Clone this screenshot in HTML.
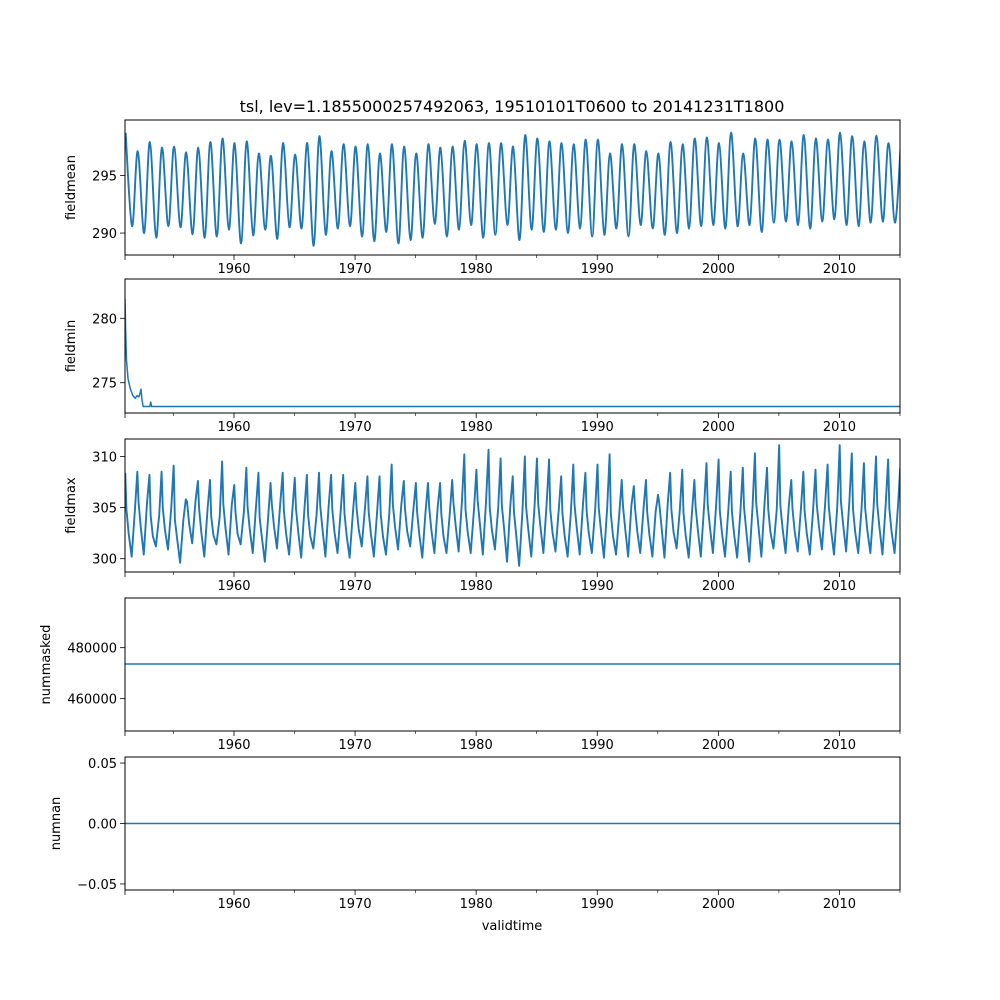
<!DOCTYPE html>
<html><head><meta charset="utf-8"><style>
html,body{margin:0;padding:0;background:#fff;}
svg{display:block;font-family:"DejaVu Sans","Liberation Sans",sans-serif;}
</style></head><body>
<svg id="fig" width="1000" height="1000" viewBox="0 0 1000 1000"></svg>
<script>
const startYear = 1951;
const years = Array.from({length: 64}, (_, i) => 1951 + i);
const majorTicks = [1960, 1970, 1980, 1990, 2000, 2010];
const minorTicks = [1955, 1965, 1975, 1985, 1995, 2005, 2015];

const meanPeaks = [298.7,297.1,297.9,297.4,297.5,297.0,297.4,297.9,298.2,297.8,297.95,296.9,296.7,297.8,296.8,297.8,298.4,297.1,297.7,297.5,297.7,296.9,297.7,297.5,296.9,297.7,297.4,297.5,298.0,297.7,297.8,
297.8,297.5,298.5,298.2,297.95,297.8,297.7,298.1,298.1,296.9,297.7,297.7,297.1,296.9,297.9,297.7,298.2,298.3,297.8,298.7,296.9,298.2,298.1,298.1,297.95,298.5,298.2,298.1,298.7,298.4,297.95,298.45,297.8,297.5];
const meanTroughs = [290.6,290.0,289.6,290.6,290.5,289.9,289.6,289.7,290.3,289.1,289.8,290.3,289.5,290.5,290.4,288.9,289.85,290.4,290.6,289.7,289.3,290.1,289.1,289.4,289.6,290.8,289.7,290.3,290.7,289.6,289.85,
290.7,289.4,290.3,290.1,290.3,290.0,290.4,289.7,289.85,290.4,289.7,290.7,290.4,289.85,290.0,290.4,290.6,290.7,290.4,290.6,290.7,290.1,290.9,291.0,290.7,290.4,291.0,291.2,290.7,290.6,290.9,291.0,290.9];

const minTimes = [1951.0,1951.05,1951.12,1951.25,1951.45,1951.65,1951.85,1952.0,1952.15,1952.25,1952.32,1952.4,1952.5,1952.9,1953.05,1953.12,1953.2,1953.3,2015.0];
const minValues = [281.5,279.2,276.8,275.3,274.5,274.0,273.8,274.0,273.9,274.2,274.5,273.7,273.15,273.15,273.15,273.5,273.15,273.15,273.15];

const maxPeaks = [308.4,308.5,308.2,308.5,309.1,305.8,307.6,307.7,309.5,307.2,308.9,308.4,307.4,308.4,307.9,308.2,308.4,308.2,308.2,307.4,308.05,308.05,309.2,307.6,307.4,307.4,307.4,307.7,310.2,308.7,310.65,
309.8,308.05,310.0,309.8,309.7,308.05,309.2,308.4,309.2,310.2,307.7,307.1,307.7,306.25,308.4,308.7,307.7,309.35,309.7,308.5,308.9,310.3,308.9,311.1,307.7,308.5,308.7,309.2,311.1,310.3,309.35,310.0,309.7,308.9];
const maxShoulders = [302.5,303.1,302.2,302.8,302.0,303.4,302.6,302.3,303.0,302.4,302.9,302.1,303.2,302.5,302.7,302.2,303.0,302.6,302.3,302.9,302.5,302.2,303.1,302.7,302.4,302.8,302.2,303.3,302.6,303.5,302.8,
303.0,302.4,302.9,303.2,302.6,302.3,303.1,302.5,302.8,302.2,303.0,302.7,302.4,303.2,302.6,302.3,302.9,303.1,302.5,302.4,302.8,303.3,302.6,303.0,302.7,302.5,303.2,302.9,303.4,302.6,302.8,303.1,302.7];
const maxRises = [304.8,305.5,304.2,305.0,303.8,305.6,304.9,304.1,305.3,304.6,305.1,304.0,305.4,304.7,304.9,304.3,305.2,304.8,304.5,305.0,304.6,304.3,305.3,304.9,304.6,305.0,304.4,305.5,304.8,305.7,305.0,
305.2,304.6,305.1,305.4,304.8,304.5,305.3,304.7,305.0,304.4,305.2,304.9,304.6,305.4,304.8,304.5,305.1,305.3,304.7,304.6,305.0,305.5,304.8,305.2,304.9,304.7,305.4,305.1,305.6,304.8,305.0,305.3,304.9];
const maxTroughs = [300.2,300.4,301.2,300.9,299.6,301.5,300.2,301.4,300.4,301.4,300.55,299.7,301.0,300.4,300.1,301.0,300.2,300.55,300.1,301.2,300.2,300.4,300.9,301.2,300.1,300.55,300.55,300.7,300.55,300.4,300.9,
299.7,299.3,300.2,300.55,300.7,300.2,300.4,300.55,300.1,300.4,300.2,300.55,300.2,300.1,301.0,300.1,300.2,300.55,300.2,300.1,299.7,300.2,301.0,300.55,300.7,300.4,300.9,300.4,300.7,300.55,300.55,300.4,300.55];

const maskedValue = 473600;
const nanValue = 0.0;

const ticks1 = [290, 295], ticks2 = [275, 280], ticks3 = [300, 305, 310], ticks4 = [460000, 480000], ticks5 = [-0.05, 0.00, 0.05];
const tickLabels5 = ["\u22120.05", "0.00", "0.05"];

const NS = "http://www.w3.org/2000/svg";
const svg = document.getElementById("fig");
const X0 = 125, X1 = 900, T0 = 1951, T1 = 2015;
const xs = t => X0 + (t - T0) / (T1 - T0) * (X1 - X0);
const COLOR = "#1f77b4";

function mk(tag, attrs, parent) {
  const e = document.createElementNS(NS, tag);
  for (const k in attrs) e.setAttribute(k, attrs[k]);
  (parent || svg).appendChild(e);
  return e;
}

const panels = [
  {name: "fieldmean", top: 120, bot: 255, ymin: 288.1, ymax: 299.8, ticks: ticks1, labels: ["290", "295"], labx: 75},
  {name: "fieldmin", top: 279, bot: 413, ymin: 272.65, ymax: 283.05, ticks: ticks2, labels: ["275", "280"], labx: 75},
  {name: "fieldmax", top: 439, bot: 572, ymin: 298.7, ymax: 311.7, ticks: ticks3, labels: ["300", "305", "310"], labx: 75},
  {name: "nummasked", top: 598, bot: 731, ymin: 447300, ymax: 499500, ticks: ticks4, labels: ["460000", "480000"], labx: 50},
  {name: "numnan", top: 757, bot: 890, ymin: -0.055, ymax: 0.055, ticks: ticks5, labels: tickLabels5, labx: 60}
];

function smoothPath(pts) {
  let d = "M" + pts[0][0].toFixed(2) + "," + pts[0][1].toFixed(2);
  for (let i = 0; i < pts.length - 1; i++) {
    const p0 = pts[Math.max(0, i - 1)], p1 = pts[i], p2 = pts[i + 1], p3 = pts[Math.min(pts.length - 1, i + 2)];
    const c1x = p1[0] + (p2[0] - p0[0]) / 6, c1y = p1[1] + (p2[1] - p0[1]) / 6;
    const c2x = p2[0] - (p3[0] - p1[0]) / 6, c2y = p2[1] - (p3[1] - p1[1]) / 6;
    d += "C" + c1x.toFixed(2) + "," + c1y.toFixed(2) + " " + c2x.toFixed(2) + "," + c2y.toFixed(2) + " " + p2[0].toFixed(2) + "," + p2[1].toFixed(2);
  }
  return d;
}

const title = mk("text", {x: 512, y: 112, "text-anchor": "middle", "font-size": "16", fill: "#000"});


title.textContent = "tsl, lev=1.1855000257492063, 19510101T0600 to 20141231T1800";

panels.forEach((p, pi) => {
  const ys = v => p.bot - (v - p.ymin) / (p.ymax - p.ymin) * (p.bot - p.top);
  const g = mk("g", {});
  
  
  const cid = "clip" + pi;
  const cp = mk("clipPath", {id: cid}, g);
  mk("rect", {x: X0, y: p.top, width: X1 - X0, height: p.bot - p.top}, cp);

  let d = "", sw = "1.5";
  if (pi === 0) {
    const pts = [];
    meanPeaks.forEach((v, i) => {
      pts.push([xs(startYear + i + 0.05), ys(v)]);
      if (i < meanTroughs.length) pts.push([xs(startYear + i + 0.58), ys(meanTroughs[i])]);
    });
    d = smoothPath(pts);
    sw = "1.9";
  } else if (pi === 1) {
    d = minTimes.map((t, i) => (i ? "L" : "M") + xs(t).toFixed(2) + "," + ys(minValues[i]).toFixed(2)).join("");
  } else if (pi === 2) {
    const pts = [];
    maxPeaks.forEach((v, i) => {
      pts.push([xs(startYear + i + 0.02), ys(v)]);
      if (i < maxShoulders.length) {
        pts.push([xs(startYear + i + 0.12), ys(maxRises[i])]);
        pts.push([xs(startYear + i + 0.3), ys(maxShoulders[i])]);
        pts.push([xs(startYear + i + 0.55), ys(maxTroughs[i])]);
        pts.push([xs(startYear + i + 0.82), ys(maxRises[i])]);
      }
    });
    d = "M" + pts.map(q => q[0].toFixed(2) + "," + q[1].toFixed(2)).join("L");
    sw = "1.9";
  } else if (pi === 3) {
    d = "M" + xs(T0) + "," + ys(maskedValue) + "L" + xs(T1) + "," + ys(maskedValue);
  } else {
    d = "M" + xs(T0) + "," + ys(nanValue) + "L" + xs(T1) + "," + ys(nanValue);
  }
  const line = mk("path", {d: d, fill: "none", stroke: COLOR, "stroke-width": sw, "stroke-linejoin": "round", "clip-path": "url(#" + cid + ")"}, g);
  
  

  const fr = mk("rect", {x: X0, y: p.top, width: X1 - X0, height: p.bot - p.top, fill: "none", stroke: "#000", "stroke-width": "1"}, g);
  
  

  majorTicks.forEach(t => {
    const x = xs(t);
    mk("line", {x1: x, x2: x, y1: p.bot, y2: p.bot + 5, stroke: "#000", "stroke-width": "0.8"}, g);
    const tl = mk("text", {x: x, y: p.bot + 18, "text-anchor": "middle", "font-size": "13", fill: "#000"}, g);
    
    
    tl.textContent = t;
  });
  minorTicks.forEach(t => {
    const x = xs(t);
    mk("line", {x1: x, x2: x, y1: p.bot, y2: p.bot + 3, stroke: "#000", "stroke-width": "0.6"}, g);
  });
  mk("line", {x1: X0, x2: X0, y1: p.bot, y2: p.bot + 5, stroke: "#000", "stroke-width": "0.8"}, g);

  p.ticks.forEach((v, i) => {
    const y = ys(v);
    mk("line", {x1: X0 - 5, x2: X0, y1: y, y2: y, stroke: "#000", "stroke-width": "0.8"}, g);
    const tl = mk("text", {x: X0 - 8, y: y + 5, "text-anchor": "end", "font-size": "13", fill: "#000"}, g);
    
    
    tl.textContent = p.labels[i];
  });

  const cy = (p.top + p.bot) / 2;
  const yl = mk("text", {x: p.labx, y: cy, "text-anchor": "middle", "font-size": "13", fill: "#000", transform: "rotate(-90 " + p.labx + " " + cy + ")"}, g);
  
  
  yl.textContent = p.name;
});

const xl = mk("text", {x: 512, y: 930, "text-anchor": "middle", "font-size": "13", fill: "#000"});


xl.textContent = "validtime";
</script>
</body></html>
